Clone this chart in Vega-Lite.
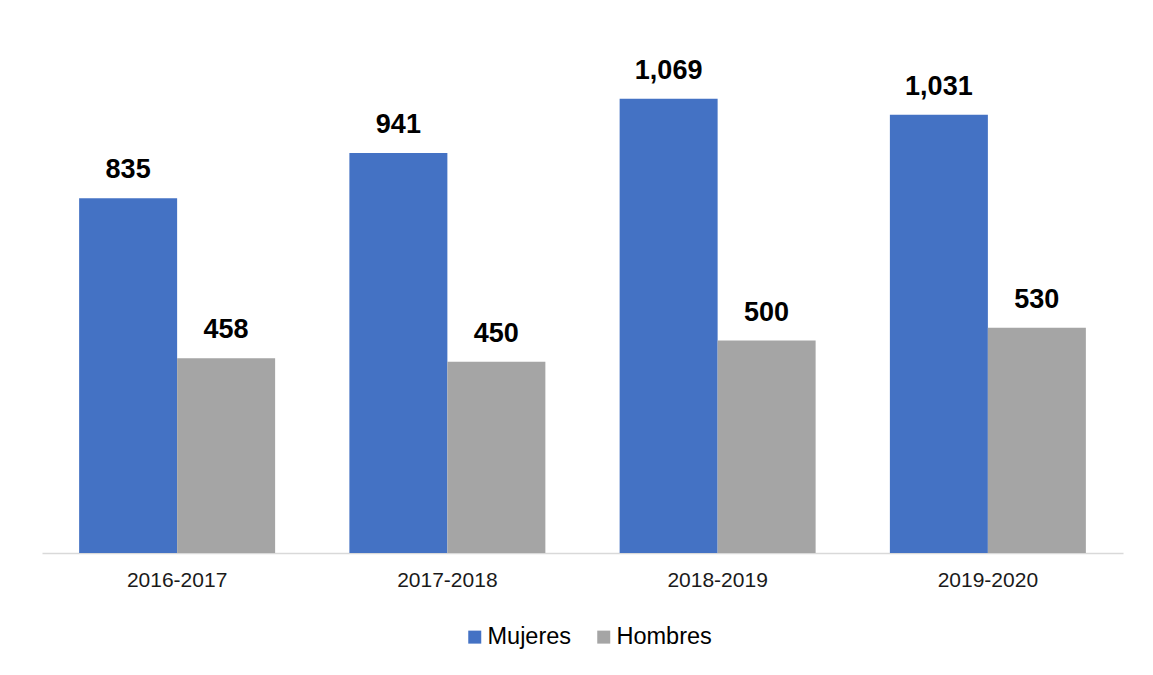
{
  "$schema": "https://vega.github.io/schema/vega-lite/v6.json",
  "width": 1081,
  "height": 510,
  "autosize": {"type": "none"},
  "padding": {"left": 42, "top": 43, "right": 30, "bottom": 122},
  "background": "white",
  "config": {
    "view": {"stroke": null},
    "font": "Liberation Sans"
  },
  "data": {
    "values": [
      {"periodo": "2016-2017", "sexo": "Mujeres", "valor": 835},
      {"periodo": "2016-2017", "sexo": "Hombres", "valor": 458},
      {"periodo": "2017-2018", "sexo": "Mujeres", "valor": 941},
      {"periodo": "2017-2018", "sexo": "Hombres", "valor": 450},
      {"periodo": "2018-2019", "sexo": "Mujeres", "valor": 1069},
      {"periodo": "2018-2019", "sexo": "Hombres", "valor": 500},
      {"periodo": "2019-2020", "sexo": "Mujeres", "valor": 1031},
      {"periodo": "2019-2020", "sexo": "Hombres", "valor": 530}
    ]
  },
  "encoding": {
    "x": {
      "field": "periodo",
      "type": "nominal",
      "scale": {"paddingInner": 0.2748, "paddingOuter": 0.1374},
      "axis": {
        "title": null,
        "labelAngle": 0,
        "ticks": false,
        "domainColor": "#d9d9d9",
        "domainWidth": 1.5,
        "labelFontSize": 21,
        "labelColor": "#1a1a1a",
        "labelPadding": 16
      }
    },
    "xOffset": {
      "field": "sexo",
      "sort": ["Mujeres", "Hombres"],
      "scale": {"paddingInner": 0, "paddingOuter": 0}
    },
    "y": {
      "field": "valor",
      "type": "quantitative",
      "scale": {"domain": [0, 1200]},
      "axis": null
    }
  },
  "layer": [
    {
      "mark": {"type": "bar"},
      "encoding": {
        "color": {
          "field": "sexo",
          "type": "nominal",
          "sort": ["Mujeres", "Hombres"],
          "scale": {"domain": ["Mujeres", "Hombres"], "range": ["#4472C4", "#A5A5A5"]},
          "legend": {
            "title": null,
            "orient": "none",
            "direction": "horizontal",
            "legendX": 421,
            "legendY": 582,
            "symbolType": "square",
            "symbolSize": 169,
            "symbolStrokeWidth": 0,
            "symbolOpacity": 1,
            "labelFontSize": 23.5,
            "labelColor": "#000000",
            "labelOffset": 1,
            "columnPadding": 20,
            "padding": 0
          }
        }
      }
    },
    {
      "mark": {"type": "text", "baseline": "alphabetic", "dy": -20, "fontSize": 27, "fontWeight": "bold", "color": "#000000"},
      "encoding": {
        "text": {"field": "valor", "type": "quantitative", "format": ","}
      }
    }
  ]
}
